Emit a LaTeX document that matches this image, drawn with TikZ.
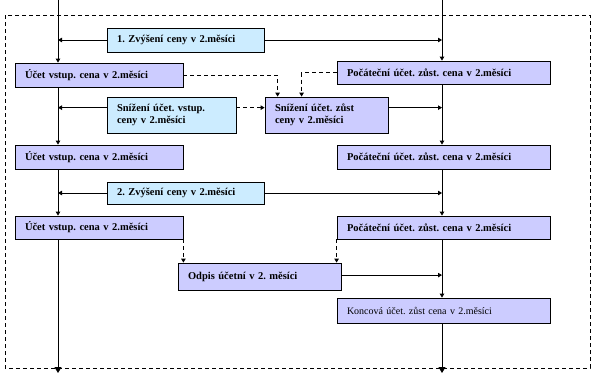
\documentclass[tikz,border=0pt]{standalone}
\usepackage{fontspec}
\setmainfont{Liberation Serif}
\usepackage{xcolor}
\usetikzlibrary{arrows.meta,calc}
\definecolor{lavend}{RGB}{204,204,255}
\definecolor{paleblue}{RGB}{204,236,255}
\frenchspacing

\begin{document}
\begin{tikzpicture}[
  x=1pt, y=-1pt,
  box/.style={draw, rectangle, line width=0.8pt, inner xsep=10pt, inner ysep=0pt, align=left,
    font=\fontsize{10.5}{12.5}\selectfont\bfseries},
  acc/.style={box, fill=lavend},
  chg/.style={box, fill=paleblue},
  arr/.style={-{Triangle[length=4pt,width=4.5pt]}},
  bigarr/.style={-{Triangle[length=6pt,width=7pt]}},
  dsh/.style={dash pattern=on 4pt off 3pt, -{Triangle[length=4pt,width=4.5pt]}},
  line width=0.8pt
]
\useasboundingbox (0,0) rectangle (599,375);
\draw[dash pattern=on 4pt off 3pt] (5,15) rectangle (590,368);
\coordinate (ltop) at (58,0);  \coordinate (lbot) at (58,373);
\coordinate (rtop) at (442,0); \coordinate (rbot) at (442,373);

\node[chg, text width=137pt, minimum height=24pt] (z1) at (185.5,40) {1. Zvýšení ceny v 2.měsíci};
\node[acc, text width=148pt, minimum height=24pt] (uv1) at (99,75) {Účet vstup. cena v 2.měsíci};
\node[acc, text width=193pt, minimum height=23pt] (pz1) at (443.5,72.5) {Počáteční účet. zůst. cena v 2.měsíci};
\node[chg, text width=109pt, minimum height=36pt] (sv) at (171.5,115) {Snížení účet. vstup.\\ceny v 2.měsíci};
\node[acc, text width=103pt, minimum height=36pt] (sz) at (326.5,115) {Snížení účet. zůst\\ceny v 2.měsíci};
\node[acc, text width=148pt, minimum height=24pt] (uv2) at (99,157) {Účet vstup. cena v 2.měsíci};
\node[acc, text width=193pt, minimum height=24pt] (pz2) at (443.5,157) {Počáteční účet. zůst. cena v 2.měsíci};
\node[chg, text width=137pt, minimum height=22pt] (z2) at (185.5,193) {2. Zvýšení ceny v 2.měsíci};
\node[acc, text width=148pt, minimum height=23pt] (uv3) at (99,227.5) {Účet vstup. cena v 2.měsíci};
\node[acc, text width=193pt, minimum height=23pt] (pz3) at (443.5,227.5) {Počáteční účet. zůst. cena v 2.měsíci};
\node[acc, text width=143pt, minimum height=27pt] (od) at (259.5,276.5) {Odpis účetní v 2. měsíci};
\node[acc, text width=193pt, minimum height=25pt, font=\fontsize{10}{12.5}\selectfont] (ko) at (443.5,310.5) {Koncová účet. zůst cena v 2.měsíci};

\draw[arr] (ltop) -- (ltop |- uv1.north);
\draw[arr] (ltop |- uv1.south) -- (ltop |- uv2.north);
\draw[arr] (ltop |- uv2.south) -- (ltop |- uv3.north);
\draw[bigarr] (ltop |- uv3.south) -- (lbot);
\draw[arr] (rtop) -- (rtop |- pz1.north);
\draw[arr] (rtop |- pz1.south) -- (rtop |- pz2.north);
\draw[arr] (rtop |- pz2.south) -- (rtop |- pz3.north);
\draw[arr] (rtop |- pz3.south) -- (rtop |- ko.north);
\draw[bigarr] (rtop |- ko.south) -- (rbot);

\draw[arr] (z1.west) -- (z1.west -| ltop);
\draw[arr] (z1.east) -- (z1.east -| rtop);
\draw[arr] (z2.west) -- (z2.west -| ltop);
\draw[arr] (z2.east) -- (z2.east -| rtop);
\draw[arr] ($(sv.north west)!.3!(sv.south west)$) coordinate (svw) -- (svw -| ltop);
\draw[dsh] ($(sv.north east)!.3!(sv.south east)$) coordinate (sve) -- (sve -| sz.west);
\draw[arr] ($(sz.north east)!.3!(sz.south east)$) coordinate (sze) -- (sze -| rtop);
\draw[dsh] (uv1.east) -| ($(sz.north west)+(13,0)$);
\draw[dsh] (pz1.west) -| ($(sz.north west)+(37,0)$);
\draw[dsh] (uv3.south east) -- (uv3.south east |- od.north);
\draw[dsh] (pz3.south west) -- (pz3.south west |- od.north);
\draw[arr] ($(od.north east)!.45!(od.south east)$) coordinate (ode) -- (ode -| rtop);
\end{tikzpicture}
\end{document}
